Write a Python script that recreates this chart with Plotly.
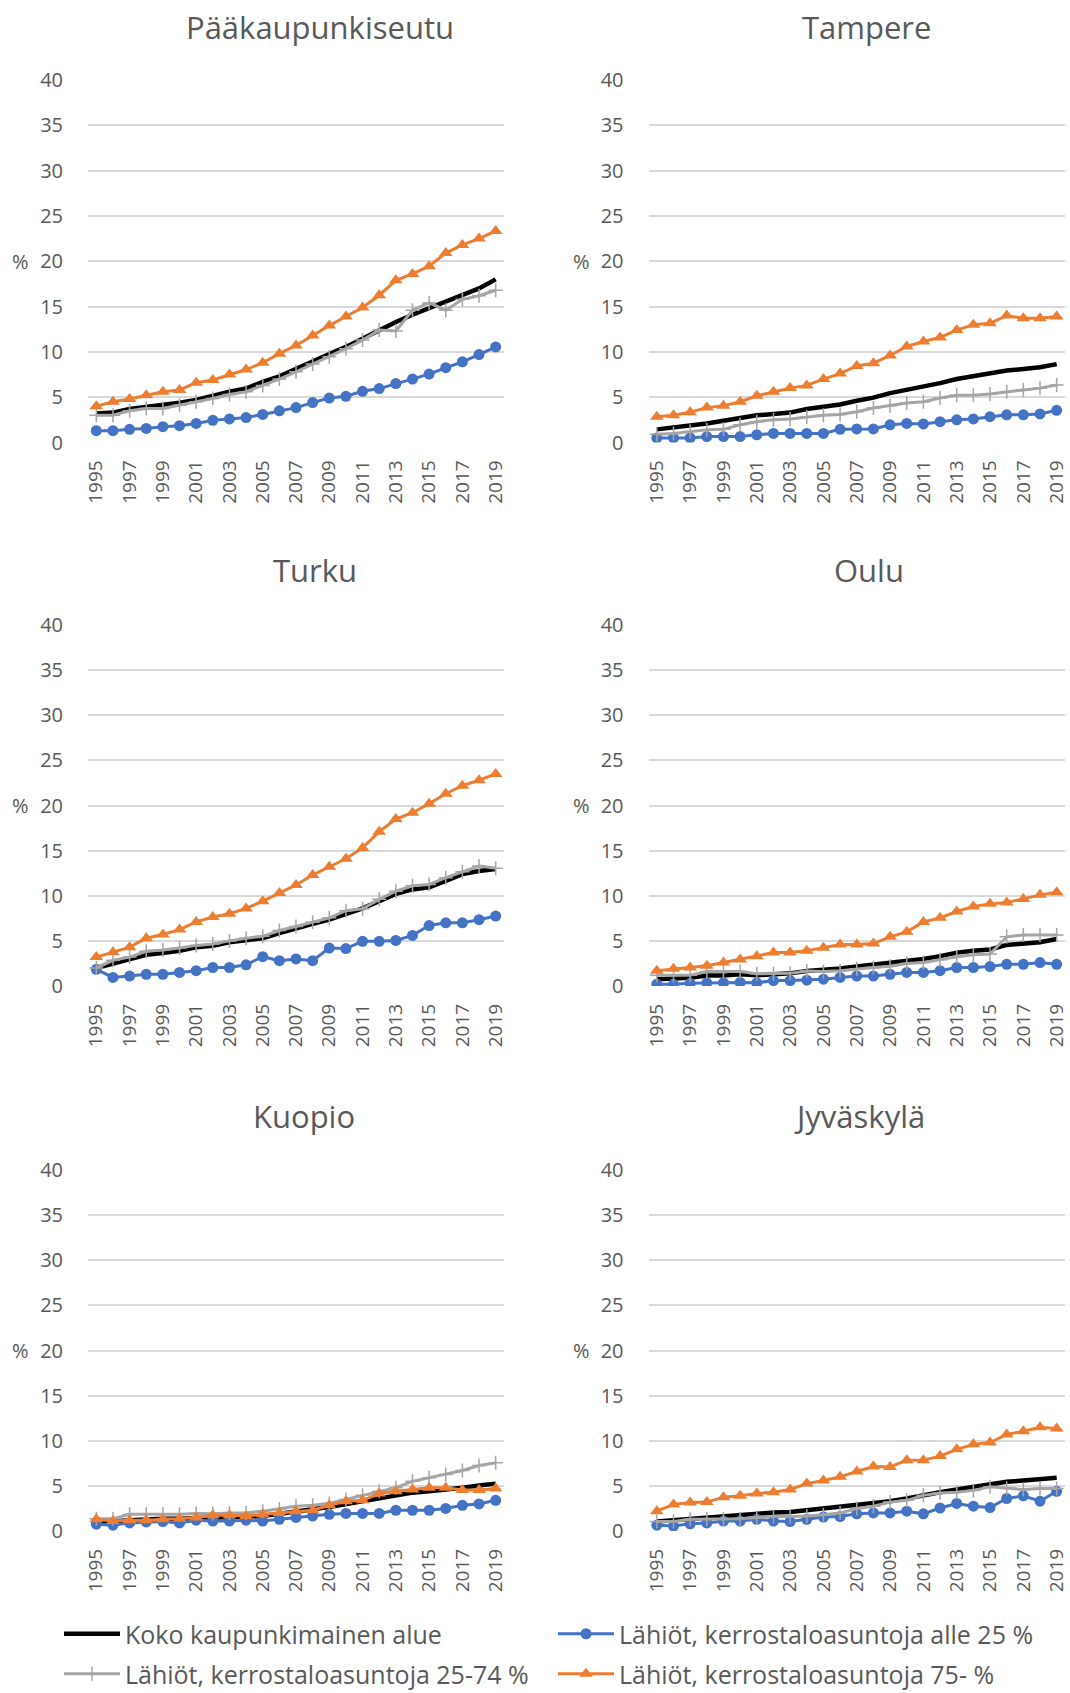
import plotly.graph_objects as go

# ---- data -----------------------------------------------------------------
years = list(range(1995, 2020))
tick_years = list(range(1995, 2020, 2))

series_names = [
    "Koko kaupunkimainen alue",
    "Lähiöt, kerrostaloasuntoja alle 25 %",
    "Lähiöt, kerrostaloasuntoja 25-74 %",
    "Lähiöt, kerrostaloasuntoja 75- %",
]

city_titles = ["Pääkaupunkiseutu", "Tampere", "Turku", "Oulu", "Kuopio", "Jyväskylä"]

# Pääkaupunkiseutu
pks_koko = [3.2, 3.3, 3.7, 3.9, 4.1, 4.4, 4.7, 5.2, 5.6, 5.95, 6.7, 7.3, 8.15, 8.9, 9.75,
            10.55, 11.5, 12.45, 13.3, 14.1, 14.8, 15.6, 16.3, 17.0, 18.0]
pks_alle25 = [1.3, 1.3, 1.45, 1.55, 1.75, 1.85, 2.1, 2.45, 2.6, 2.75, 3.1, 3.5, 3.85, 4.4, 4.9,
              5.1, 5.65, 5.95, 6.5, 7.0, 7.55, 8.25, 8.9, 9.7, 10.55]
pks_25_74 = [3.0, 3.0, 3.5, 3.75, 3.75, 4.1, 4.5, 4.85, 5.3, 5.6, 6.3, 7.0, 7.8, 8.65, 9.45,
             10.35, 11.3, 12.4, 12.3, 14.6, 15.4, 14.6, 15.8, 16.2, 16.8]
pks_75 = [4.0, 4.5, 4.8, 5.2, 5.6, 5.8, 6.6, 6.9, 7.5, 8.05, 8.8, 9.8, 10.7, 11.8, 12.9,
          13.9, 14.9, 16.25, 17.9, 18.6, 19.45, 20.9, 21.8, 22.5, 23.35]

# Tampere
tre_koko = [1.45, 1.65, 1.9, 2.1, 2.4, 2.7, 3.0, 3.15, 3.3, 3.7, 3.9, 4.2, 4.6, 4.95, 5.45,
            5.8, 6.2, 6.55, 7.0, 7.35, 7.65, 7.95, 8.1, 8.3, 8.65]
tre_alle25 = [0.5, 0.5, 0.5, 0.65, 0.65, 0.65, 0.85, 1.0, 1.0, 1.0, 1.0, 1.45, 1.5, 1.5, 1.95,
              2.1, 2.05, 2.3, 2.5, 2.6, 2.85, 3.05, 3.05, 3.15, 3.55]
tre_25_74 = [0.9, 1.0, 1.2, 1.4, 1.45, 1.95, 2.3, 2.5, 2.6, 2.8, 3.0, 3.1, 3.4, 3.8, 4.05,
             4.35, 4.5, 4.9, 5.2, 5.2, 5.35, 5.6, 5.8, 6.0, 6.35]
tre_75 = [2.85, 3.0, 3.35, 3.85, 4.05, 4.5, 5.15, 5.6, 6.0, 6.3, 7.0, 7.6, 8.45, 8.75, 9.6,
          10.6, 11.15, 11.6, 12.4, 13.0, 13.15, 14.0, 13.7, 13.7, 13.9]

# Turku
tku_koko = [2.0, 2.5, 2.9, 3.45, 3.65, 3.9, 4.3, 4.45, 4.85, 5.05, 5.3, 5.85, 6.4, 6.9, 7.35,
            8.0, 8.6, 9.4, 10.2, 10.7, 10.95, 11.65, 12.4, 12.75, 12.95]
tku_alle25 = [1.85, 0.95, 1.1, 1.3, 1.3, 1.5, 1.7, 2.05, 2.05, 2.35, 3.25, 2.8, 3.0, 2.8, 4.2,
              4.15, 4.95, 4.95, 5.05, 5.6, 6.7, 7.0, 7.0, 7.35, 7.75]
tku_25_74 = [2.0, 2.85, 3.2, 3.85, 4.0, 4.2, 4.5, 4.65, 5.0, 5.3, 5.5, 6.15, 6.6, 7.05, 7.55,
             8.35, 8.55, 9.6, 10.5, 11.1, 11.25, 12.0, 12.65, 13.3, 13.05]
tku_75 = [3.2, 3.75, 4.3, 5.3, 5.7, 6.25, 7.1, 7.65, 8.0, 8.6, 9.4, 10.3, 11.2, 12.3, 13.2,
          14.1, 15.3, 17.1, 18.5, 19.2, 20.2, 21.3, 22.2, 22.8, 23.5]

# Oulu
oulu_koko = [0.75, 0.85, 0.9, 1.15, 1.15, 1.3, 1.2, 1.3, 1.4, 1.65, 1.75, 1.95, 2.15, 2.35, 2.5,
             2.8, 3.0, 3.3, 3.7, 3.9, 4.05, 4.55, 4.7, 4.85, 5.2]
oulu_alle25 = [0.2, 0.2, 0.3, 0.35, 0.35, 0.4, 0.35, 0.6, 0.6, 0.65, 0.75, 0.95, 1.1, 1.1, 1.3,
               1.5, 1.5, 1.7, 2.05, 2.05, 2.15, 2.4, 2.4, 2.6, 2.4]
oulu_25_74 = [1.2, 1.2, 1.2, 1.6, 1.6, 1.6, 1.35, 1.35, 1.4, 1.65, 1.6, 1.7, 1.9, 2.05, 2.2,
              2.5, 2.6, 2.9, 3.25, 3.45, 3.55, 5.45, 5.65, 5.65, 5.65]
oulu_75 = [1.7, 1.9, 2.05, 2.25, 2.6, 2.95, 3.3, 3.7, 3.7, 3.9, 4.25, 4.6, 4.6, 4.7, 5.45,
           6.0, 7.1, 7.55, 8.25, 8.8, 9.1, 9.25, 9.65, 10.1, 10.4]

# Kuopio
kuo_koko = [1.05, 1.05, 1.2, 1.3, 1.35, 1.35, 1.4, 1.5, 1.5, 1.55, 1.65, 1.9, 2.1, 2.4, 2.65,
            2.95, 3.3, 3.55, 3.85, 4.25, 4.4, 4.55, 4.8, 5.05, 5.25]
kuo_alle25 = [0.75, 0.65, 0.9, 1.0, 1.05, 0.9, 1.2, 1.1, 1.1, 1.2, 1.1, 1.3, 1.5, 1.65, 1.85,
              1.95, 1.95, 1.95, 2.3, 2.3, 2.3, 2.5, 2.85, 3.0, 3.4]
kuo_25_74 = [1.35, 1.35, 1.85, 1.85, 1.85, 1.85, 1.95, 1.9, 2.0, 2.0, 2.2, 2.45, 2.75, 2.85, 3.05,
             3.5, 3.95, 4.4, 4.8, 5.5, 5.9, 6.25, 6.7, 7.25, 7.55]
kuo_75 = [1.3, 1.1, 1.2, 1.2, 1.3, 1.35, 1.5, 1.75, 1.75, 1.65, 1.85, 2.0, 2.2, 2.3, 2.85,
          3.3, 3.4, 4.15, 4.4, 4.6, 4.8, 4.8, 4.55, 4.55, 4.7]

# Jyväskylä
jkl_koko = [1.05, 1.2, 1.3, 1.5, 1.6, 1.75, 1.9, 2.05, 2.1, 2.3, 2.5, 2.65, 2.85, 3.1, 3.3,
            3.6, 4.0, 4.3, 4.6, 4.9, 5.25, 5.45, 5.6, 5.7, 5.9]
jkl_alle25 = [0.65, 0.55, 0.8, 0.9, 1.1, 1.1, 1.3, 1.1, 1.05, 1.3, 1.55, 1.6, 1.9, 2.0, 2.0,
              2.2, 1.9, 2.55, 3.05, 2.75, 2.6, 3.6, 3.9, 3.3, 4.4]
jkl_25_74 = [1.05, 1.05, 1.3, 1.3, 1.35, 1.35, 1.5, 1.6, 1.6, 1.65, 1.8, 2.0, 2.5, 2.75, 3.2,
             3.4, 3.95, 4.2, 4.3, 4.5, 4.9, 4.75, 4.6, 4.7, 4.7]
jkl_75 = [2.2, 2.95, 3.15, 3.2, 3.75, 3.9, 4.15, 4.3, 4.6, 5.25, 5.6, 6.0, 6.6, 7.15, 7.1,
          7.85, 7.85, 8.3, 9.05, 9.6, 9.8, 10.7, 11.05, 11.5, 11.35]

city_data = [
    [pks_koko, pks_alle25, pks_25_74, pks_75],
    [tre_koko, tre_alle25, tre_25_74, tre_75],
    [tku_koko, tku_alle25, tku_25_74, tku_75],
    [oulu_koko, oulu_alle25, oulu_25_74, oulu_75],
    [kuo_koko, kuo_alle25, kuo_25_74, kuo_75],
    [jkl_koko, jkl_alle25, jkl_25_74, jkl_75],
]

# ---- styling ----------------------------------------------------------------
W, H = 1070, 1693
FONT = "'Open Sans', 'Noto Sans', sans-serif"
TEXT_GRAY = "#595959"
GRID_GRAY = "#D9D9D9"

series_styles = [
    dict(line=dict(color="#000000", width=4.5), mode="lines", marker=None),
    dict(line=dict(color="#4472C4", width=3), mode="lines+markers",
         marker=dict(symbol="circle", size=11, color="#4472C4")),
    dict(line=dict(color="#A5A5A5", width=3), mode="lines+markers",
         marker=dict(symbol="cross-thin", size=10, color="#A5A5A5",
                     line=dict(color="#A5A5A5", width=1.5))),
    dict(line=dict(color="#ED7D31", width=3), mode="lines+markers",
         marker=dict(symbol="triangle-up", size=12, color="#ED7D31")),
]
legend_of_series = ["legend", "legend", "legend2", "legend2"]

# panel geometry in pixels (left, right, top, bottom of the plotting area)
col_x = [(88, 504), (648.5, 1065)]
row_y = [(80, 442.5), (625, 986), (1170, 1531)]
title_pos = [(320, 27), (866, 27), (315, 570), (869, 570), (304, 1116), (859, 1116)]
pct_x = [20, 581]


def px_x(x):
    return x / W


def px_y(y):
    return 1 - y / H


fig = go.Figure()
annotations = []

for i, (title, data) in enumerate(zip(city_titles, city_data)):
    r, c = divmod(i, 2)
    n = i + 1
    xa = "x" if n == 1 else f"x{n}"
    ya = "y" if n == 1 else f"y{n}"

    for k, (name, vals, st) in enumerate(zip(series_names, data, series_styles)):
        tr = dict(
            x=years, y=vals, name=name, mode=st["mode"], line=st["line"],
            xaxis=xa, yaxis=ya, showlegend=(i == 0), legend=legend_of_series[k],
            hoverinfo="skip",
        )
        if st["marker"] is not None:
            tr["marker"] = st["marker"]
        fig.add_trace(go.Scatter(**tr))

    x0, x1 = col_x[c]
    y0, y1 = row_y[r]
    fig.layout[f"xaxis{'' if n == 1 else n}"] = dict(
        domain=[px_x(x0), px_x(x1)], range=[1994.5, 2019.5], anchor=ya,
        tickmode="array", tickvals=tick_years, ticktext=[str(t) for t in tick_years],
        tickangle=-90, showgrid=False, zeroline=False, showline=False, ticks="",
        ticklabelstandoff=13, automargin=False,
        tickfont=dict(family=FONT, size=19, color=TEXT_GRAY),
    )
    fig.layout[f"yaxis{'' if n == 1 else n}"] = dict(
        domain=[px_y(y1), px_y(y0)], range=[0, 40], anchor=xa,
        tickmode="linear", tick0=0, dtick=5, showgrid=True, gridcolor=GRID_GRAY,
        gridwidth=1.5, zeroline=False, showline=False, ticks="",
        ticklabelstandoff=24, automargin=False,
        tickfont=dict(family=FONT, size=20, color=TEXT_GRAY),
    )

    tx, ty = title_pos[i]
    annotations.append(dict(
        text=title, x=px_x(tx), y=px_y(ty), xref="paper", yref="paper",
        xanchor="center", yanchor="middle", showarrow=False,
        font=dict(family=FONT, size=31, color=TEXT_GRAY),
    ))
    pct_y = y0 + (y1 - y0) * (40 - 20) / 40
    annotations.append(dict(
        text="%", x=px_x(pct_x[c]), y=px_y(pct_y), xref="paper", yref="paper",
        xanchor="center", yanchor="middle", showarrow=False,
        font=dict(family=FONT, size=20, color=TEXT_GRAY),
    ))

legend_common = dict(
    orientation="h", xref="paper", yref="paper", xanchor="left",
    bgcolor="rgba(0,0,0,0)", entrywidthmode="pixels", entrywidth=423,
    font=dict(family=FONT, size=25, color=TEXT_GRAY), itemwidth=56,
    tracegroupgap=0,
)

fig.update_layout(
    width=W, height=H,
    margin=dict(l=0, r=0, t=0, b=0, autoexpand=False),
    paper_bgcolor="white", plot_bgcolor="white",
    annotations=annotations,
    legend=dict(x=px_x(59), y=px_y(1634), yanchor="middle", **legend_common),
    legend2=dict(x=px_x(59), y=px_y(1697), yanchor="bottom", **legend_common),
)

# the page body gets no margin so the figure fills the window exactly
fig.write_html("out.html", post_script="document.body.style.margin='0';")
